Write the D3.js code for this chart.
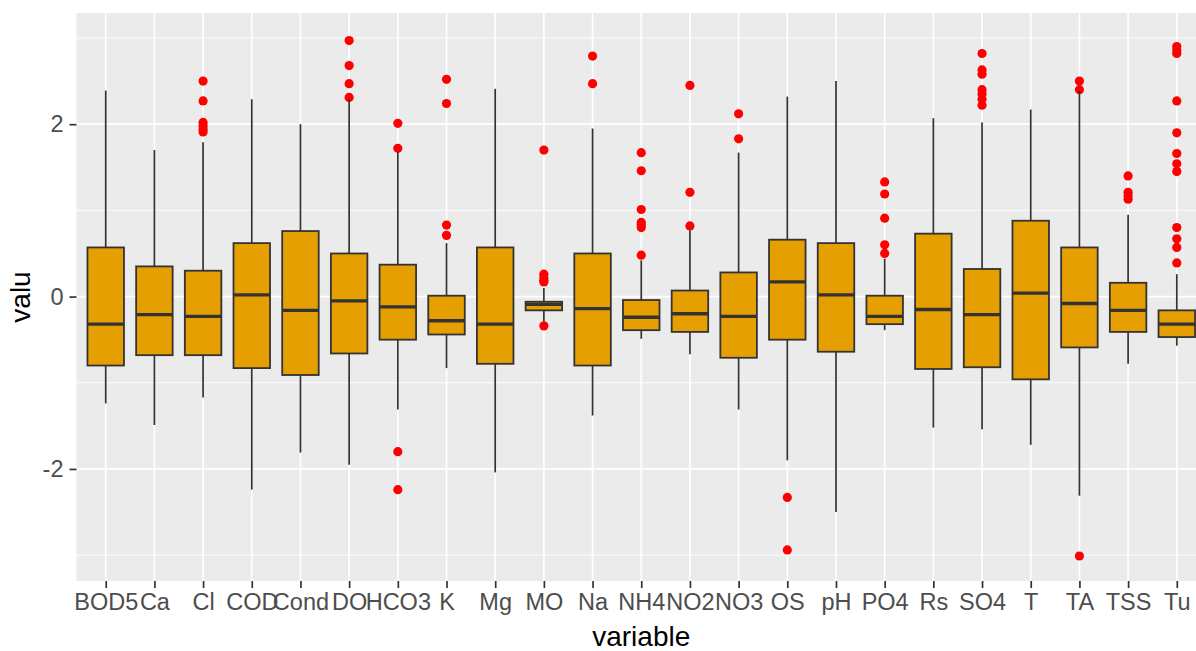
<!DOCTYPE html>
<html>
<head>
<meta charset="utf-8">
<script src="https://cdn.jsdelivr.net/npm/d3@7"></script>
<style>
  body { margin: 0; background: #ffffff; }
  svg { display: block; font-family: "Liberation Sans", Arial, sans-serif; }
</style>
</head>
<body>
<svg id="canvas" width="1196" height="651"></svg>
<script>
// values
let categories = ["BOD5","Ca","Cl","COD","Cond","DO","HCO3","K","Mg","MO","Na","NH4","NO2","NO3","OS","pH","PO4","Rs","SO4","T","TA","TSS","Tu"]

let whiskerLow  = [-1.24,-1.49,-1.17,-2.24,-1.81,-1.95,-1.31,-0.83,-2.04,-0.29,-1.38,-0.49,-0.67,-1.31,-1.90,-2.50,-0.39,-1.52,-1.54,-1.72,-2.31,-0.78,-0.57]
let q1          = [-0.80,-0.68,-0.68,-0.83,-0.91,-0.66,-0.50,-0.44,-0.78,-0.16,-0.80,-0.39,-0.41,-0.71,-0.50,-0.64,-0.32,-0.84,-0.82,-0.96,-0.59,-0.41,-0.47]
let median      = [-0.32,-0.21,-0.23,0.02,-0.16,-0.05,-0.12,-0.28,-0.32,-0.09,-0.14,-0.24,-0.20,-0.23,0.17,0.02,-0.23,-0.15,-0.21,0.04,-0.08,-0.16,-0.32]
let q3          = [0.57,0.35,0.30,0.62,0.76,0.50,0.37,0.01,0.57,-0.06,0.50,-0.04,0.07,0.28,0.66,0.62,0.01,0.73,0.32,0.88,0.57,0.16,-0.16]
let whiskerHigh = [2.39,1.70,1.79,2.29,2.00,2.29,1.68,0.62,2.41,0.10,1.95,0.42,0.77,1.67,2.32,2.50,0.44,2.07,2.02,2.17,2.39,0.95,0.26]

let outliers = [
    [],
    [],
    [2.50,2.27,2.02,1.98,1.94,1.91],
    [],
    [],
    [2.97,2.68,2.47,2.31],
    [2.01,1.72,-1.80,-2.24],
    [2.52,2.24,0.83,0.71],
    [],
    [1.70,0.26,0.22,0.19,0.17,-0.34],
    [2.79,2.47],
    [1.67,1.46,1.01,0.86,0.83,0.80,0.48],
    [2.45,1.21,0.82],
    [2.12,1.83],
    [-2.33,-2.94],
    [],
    [1.33,1.19,0.91,0.60,0.50],
    [],
    [2.82,2.63,2.58,2.40,2.35,2.29,2.22],
    [],
    [2.50,2.40,-3.01],
    [1.40,1.21,1.17,1.13],
    [2.90,2.86,2.82,2.27,1.90,1.66,1.54,1.45,0.80,0.67,0.57,0.39]
]

let majorTicks = [-2, 0, 2]
let minorTicks = [-3, -1, 1, 3]

let xTitle = "variable"
let yTitle = "valu"

let canvas = d3.select("#canvas")

let panelLeft = 76.5, panelRight = 1206, panelTop = 13, panelBottom = 581

let x = d3.scalePoint()
    .domain(categories)
    .range([panelLeft, panelRight])
    .padding(0.6)

let y = d3.scaleLinear()
    .domain([-3.3, 3.29])
    .range([panelBottom, panelTop])

let boxWidth = x.step() * 0.75

let boxes = categories.map((c, i) => ({
    name: c,
    low: whiskerLow[i],
    q1: q1[i],
    med: median[i],
    q3: q3[i],
    high: whiskerHigh[i],
    out: outliers[i]
}))

// panel background
canvas.append("rect")
    .attr("x", panelLeft)
    .attr("y", panelTop)
    .attr("width", panelRight - panelLeft)
    .attr("height", panelBottom - panelTop)
    .attr("fill", "#ebebeb")

// grid lines
canvas.append("g").selectAll("line")
    .data(minorTicks)
    .enter()
    .append("line")
    .attr("x1", panelLeft).attr("x2", panelRight)
    .attr("y1", (d) => y(d)).attr("y2", (d) => y(d))
    .attr("stroke", "white")
    .attr("stroke-width", 0.9)

canvas.append("g").selectAll("line")
    .data(majorTicks)
    .enter()
    .append("line")
    .attr("x1", panelLeft).attr("x2", panelRight)
    .attr("y1", (d) => y(d)).attr("y2", (d) => y(d))
    .attr("stroke", "white")
    .attr("stroke-width", 1.7)

canvas.append("g").selectAll("line")
    .data(categories)
    .enter()
    .append("line")
    .attr("x1", (d) => x(d)).attr("x2", (d) => x(d))
    .attr("y1", panelTop).attr("y2", panelBottom)
    .attr("stroke", "white")
    .attr("stroke-width", 1.7)

// outliers go first, like ggplot
let outlierData = []
boxes.forEach((b) => b.out.forEach((v) => outlierData.push({ name: b.name, v: v })))

canvas.append("g").selectAll("circle")
    .data(outlierData)
    .enter()
    .append("circle")
    .attr("cx", (d) => x(d.name))
    .attr("cy", (d) => y(d.v))
    .attr("r", 4.6)
    .attr("fill", "red")

let boxG = canvas.append("g").selectAll("g")
    .data(boxes)
    .enter()
    .append("g")

boxG.append("line")
    .attr("x1", (d) => x(d.name)).attr("x2", (d) => x(d.name))
    .attr("y1", (d) => y(d.high)).attr("y2", (d) => y(d.q3))
    .attr("stroke", "#333333")
    .attr("stroke-width", 1.7)

boxG.append("line")
    .attr("x1", (d) => x(d.name)).attr("x2", (d) => x(d.name))
    .attr("y1", (d) => y(d.q1)).attr("y2", (d) => y(d.low))
    .attr("stroke", "#333333")
    .attr("stroke-width", 1.7)

boxG.append("rect")
    .attr("x", (d) => x(d.name) - boxWidth / 2)
    .attr("y", (d) => y(d.q3))
    .attr("width", boxWidth)
    .attr("height", (d) => y(d.q1) - y(d.q3))
    .attr("fill", "#E69F00")
    .attr("stroke", "#333333")
    .attr("stroke-width", 1.8)

boxG.append("line")
    .attr("x1", (d) => x(d.name) - boxWidth / 2)
    .attr("x2", (d) => x(d.name) + boxWidth / 2)
    .attr("y1", (d) => y(d.med)).attr("y2", (d) => y(d.med))
    .attr("stroke", "#333333")
    .attr("stroke-width", 3.4)

// axes
let yAxis = canvas.append("g")
    .attr("transform", `translate(${panelLeft},0)`)
    .call(d3.axisLeft(y).tickValues(majorTicks).tickSize(7).tickPadding(6).tickFormat((d) => String(d)))

let xAxis = canvas.append("g")
    .attr("transform", `translate(0,${panelBottom})`)
    .call(d3.axisBottom(x).tickSize(7).tickPadding(5))

canvas.selectAll(".domain").remove()
canvas.selectAll(".tick line")
    .attr("stroke", "#333333")
    .attr("stroke-width", 1.7)
canvas.selectAll(".tick text")
    .attr("fill", "#4d4d4d")
    .style("font-size", "23.5px")
    .style("font-family", "'Liberation Sans', Arial, sans-serif")

// axis titles
canvas.append("text")
    .attr("x", (panelLeft + panelRight) / 2)
    .attr("y", 646)
    .attr("text-anchor", "middle")
    .attr("fill", "black")
    .style("font-size", "28px")
    .text(xTitle)

canvas.append("text")
    .attr("transform", `translate(30,${(panelTop + panelBottom) / 2}) rotate(-90)`)
    .attr("text-anchor", "middle")
    .attr("fill", "black")
    .style("font-size", "28px")
    .text(yTitle)
</script>
</body>
</html>
